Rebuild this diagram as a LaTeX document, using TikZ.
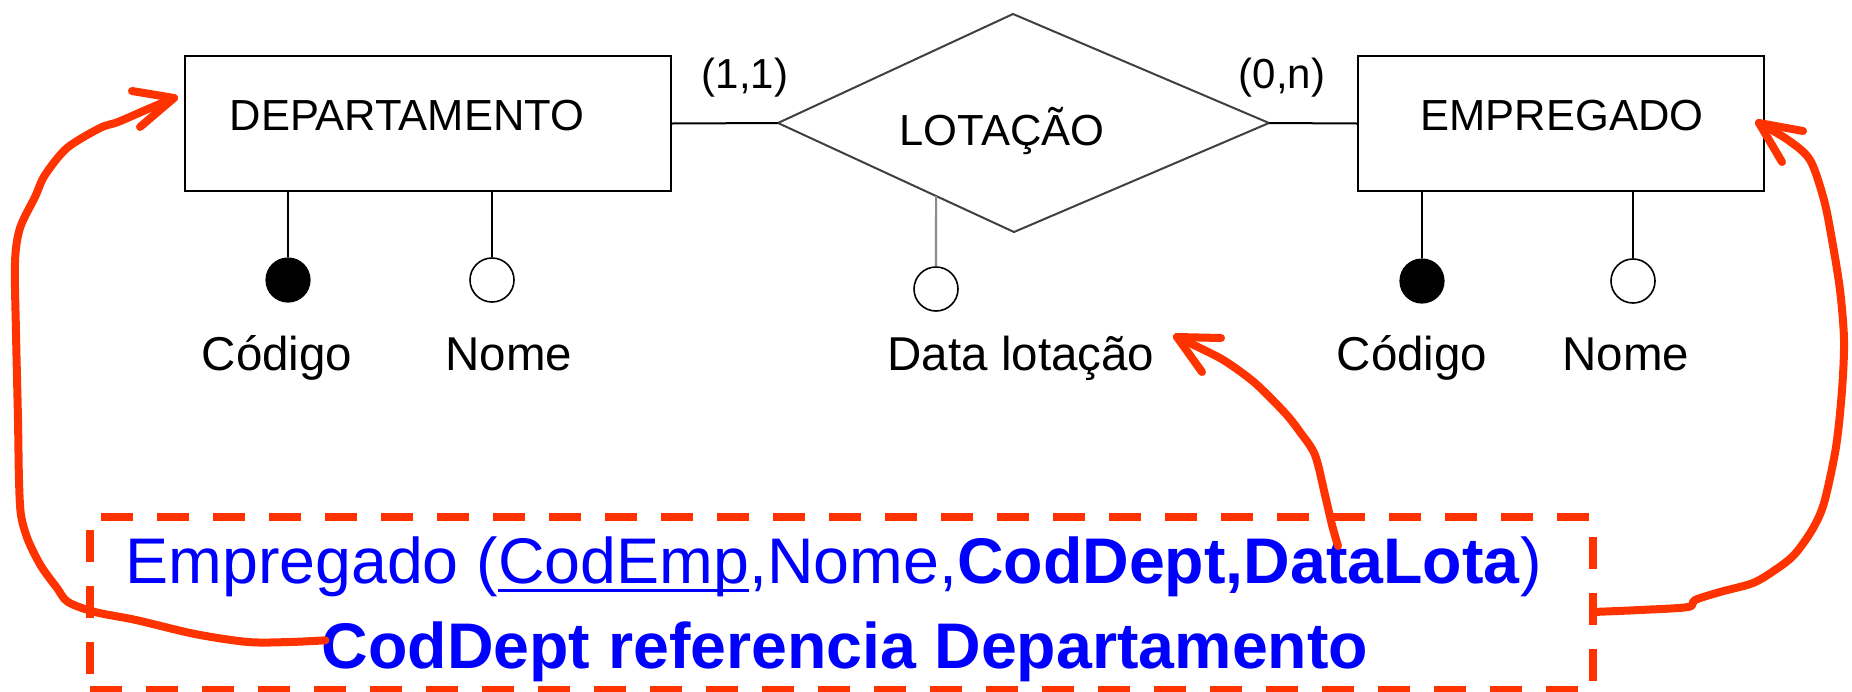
\documentclass[tikz,border=0pt]{standalone}
\usepackage{fontspec}
\setmainfont{Liberation Sans}
\usetikzlibrary{calc}

\definecolor{penred}{RGB}{255,51,0}
\definecolor{keyblue}{RGB}{0,0,255}
% underline for the primary key
\newcommand{\keyline}[1]{\leavevmode\setbox0\hbox{#1}\rlap{\rule[-8.5pt]{\wd0}{3pt}}\box0}

\begin{document}
\begin{tikzpicture}[x=1pt,y=-1pt,
  entbox/.style={draw=black,line width=2.4pt,inner sep=0pt},
  enttext/.style={anchor=base,inner sep=0pt,font=\fontsize{43.5}{50}\selectfont},
  attrtext/.style={anchor=base,inner sep=0pt,font=\fontsize{47.5}{55}\selectfont},
  cardtext/.style={anchor=base,inner sep=0pt,font=\fontsize{42}{48}\selectfont},
  keydot/.style={circle,fill=black,draw=black,line width=1.2pt,minimum size=44pt,inner sep=0pt},
  attrdot/.style={circle,fill=white,draw=black,line width=1.6pt,minimum size=44pt,inner sep=0pt},
  erline/.style={draw=black,line width=2pt},
  pen/.style={draw=penred,line width=8pt,line cap=round,line join=round},
  relbox/.style={draw=penred,line width=7.5pt,dash pattern=on 32pt off 24pt,inner sep=0pt},
  bluetext/.style={anchor=base,inner sep=0pt,text=keyblue,font=\fontsize{64.5}{72}\selectfont}]

\useasboundingbox (0,0) rectangle (1852,691);
\fill[white] (0,0) rectangle (1852,691);

% entities
\node[entbox,minimum width=486pt,minimum height=135pt] (dept) at (428,123.5) {};
\node[enttext] (deptname) at (407,130) {DEPARTAMENTO};
\node[entbox,minimum width=406pt,minimum height=135pt] (emp) at (1561,123.5) {};
\node[enttext] (empname) at (1562,130) {EMPREGADO};

% relationship
\coordinate (dL) at (778,123);
\coordinate (dT) at (1013,14);
\coordinate (dR) at (1269,123);
\coordinate (dB) at (1014,232);
\draw[draw=black!75,line width=2pt,line join=miter] (dL) -- (dT) -- (dR) -- (dB) -- cycle;
\node[enttext] (lot) at (1002,145) {LOTAÇÃO};

\draw[erline] (dept.east) -- (dL);
\draw[erline] (dR) -- (emp.west);
\node[cardtext] (c11) at (745,88) {(1,1)};
\node[cardtext] (c0n) at (1282,88) {(0,n)};

% attributes of DEPARTAMENTO
\node[keydot] (dcod) at (288,280) {};
\node[attrdot] (dnom) at (492,280) {};
\draw[erline] (dept.south -| dcod) -- (dcod.north);
\draw[erline] (dept.south -| dnom) -- (dnom.north);
\node[attrtext] (dcodt) at (277,370) {Código};
\node[attrtext] (dnomt) at (509,370) {Nome};

% attributes of EMPREGADO
\node[keydot] (ecod) at (1422,281) {};
\node[attrdot] (enom) at (1633,281) {};
\draw[erline] (emp.south -| ecod) -- (ecod.north);
\draw[erline] (emp.south -| enom) -- (enom.north);
\node[attrtext] (ecodt) at (1412,370) {Código};
\node[attrtext] (enomt) at (1626,370) {Nome};

% attribute of LOTACAO
\coordinate (dj) at ($(dL)!0.67!(dB)$);
\node[attrdot] (dlot) at (936,289) {};
\draw[draw=black!45,line width=2.2pt] (dj) -- (dlot.north);
\node[attrtext] (dlott) at (1021,370) {Data lotação};

% relational schema
\node[relbox,minimum width=1503pt,minimum height=173pt] (rel) at (841.5,603.5) {};
\node[bluetext] (l1) at (833.5,583) {Empregado (\keyline{CodEmp},Nome,\textbf{CodDept,DataLota})};
\node[bluetext] (l2) at (845,668) {\textbf{CodDept referencia Departamento}};

% hand-drawn links
\coordinate (tipD) at (174,98);
\coordinate (tipL) at (1177,337);
\coordinate (tipE) at (1759,123);
\coordinate (dsrc) at ($(l2.west)+(4,-11)$);
\coordinate (lsrc) at (1338,546);
\coordinate (esrc) at ($(rel.east)+(-4,8.5)$);

\draw[pen] plot[smooth,tension=0.5] coordinates {(dsrc) (290,642) (248,642) (195,634) (136,620) (95,612) (68,602) (57,588) (41,566) (28,540) (21,515) (19,480) (18,420) (16,333) (15,262) (20,228) (35,197) (45,175) (67,148) (100,128) (118,122) (148,109) (tipD)};
\draw[pen] ($(tipD)+(-42,-7)$) -- (tipD) -- ($(tipD)+(-34,29)$);

\draw[pen] plot[smooth,tension=0.5] coordinates {(lsrc) (1332,525) (1325,495) (1315,455) (1300,432) (1285,413) (1255,383) (1225,361) (1200,348) (tipL)};
\draw[pen] ($(tipL)+(44,1)$) -- (tipL) -- ($(tipL)+(25,35)$);

\draw[pen] plot[smooth,tension=0.5] coordinates {(esrc) (1640,610) (1688,607) (1695,600) (1720,592) (1753,583) (1775,570) (1794,555) (1812,530) (1824,503) (1836,447) (1842,390) (1844,340) (1840,290) (1832,240) (1824,200) (1810,160) (1788,140) (tipE)};
\draw[pen] ($(tipE)+(44,8)$) -- (tipE) -- ($(tipE)+(23,39)$);
\end{tikzpicture}
\end{document}
